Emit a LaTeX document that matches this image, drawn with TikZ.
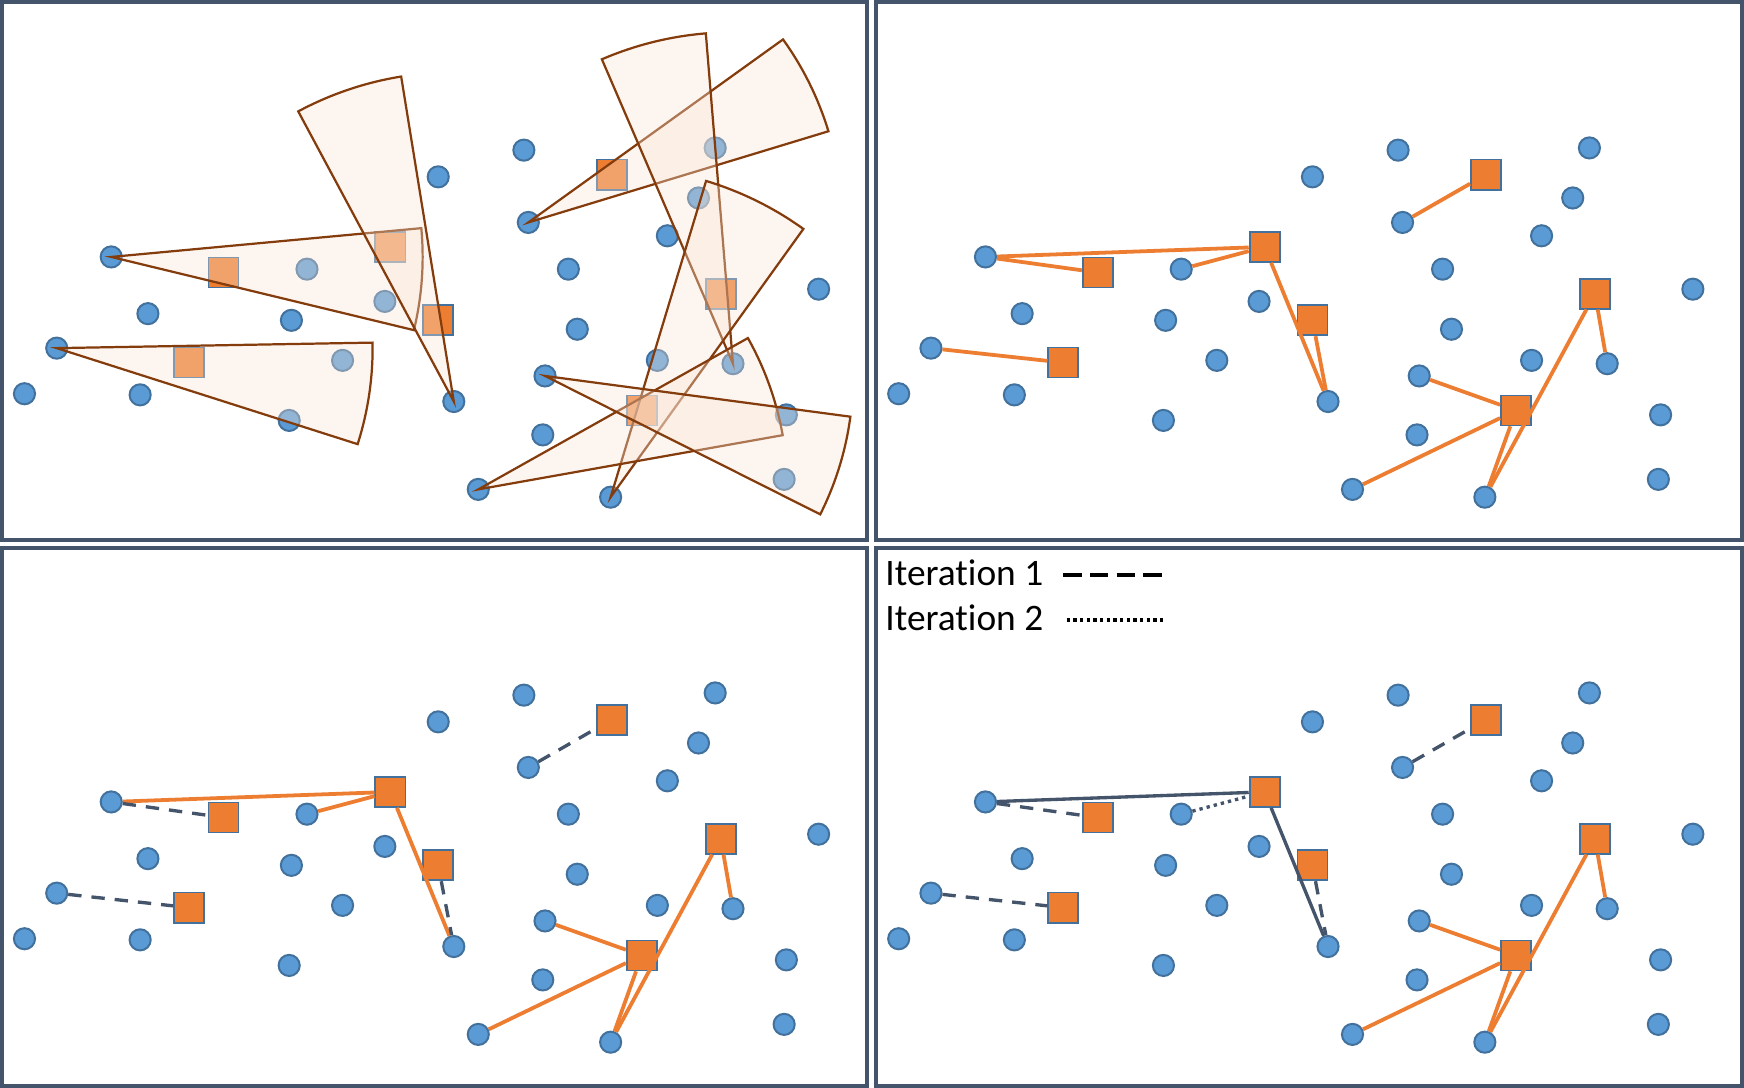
\documentclass[tikz,border=0pt]{standalone}
\usepackage{fontspec}
\setmainfont{Carlito}[Ligatures=NoCommon]
\definecolor{frameC}{HTML}{44546A}
\definecolor{ptFill}{HTML}{5B9BD5}
\definecolor{ptLine}{HTML}{41719C}
\definecolor{sqFill}{HTML}{ED7D31}
\definecolor{secFill}{HTML}{FBE5D6}
\definecolor{secLine}{HTML}{843C0C}
\tikzset{
  pt/.style={circle, fill=ptFill, draw=ptLine, line width=0.9pt, minimum size=9.5pt, inner sep=0pt},
  sq/.style={rectangle, fill=sqFill, draw=ptLine, line width=0.8pt, minimum size=13.5pt, inner sep=0pt},
  frame/.style={draw=frameC, line width=1.8pt},
  oline/.style={draw=sqFill, line width=1.7pt},
  dline/.style={draw=frameC, line width=1.5pt},
  dashline/.style={dline, dash pattern=on 6pt off 4.5pt},
  dotline/.style={dline, dash pattern=on 1.5pt off 1.8pt},
  sector/.style={fill=secFill, fill opacity=0.35, draw=secLine, line width=1.0pt, line join=miter},
  legtext/.style={anchor=base west, inner sep=0pt, font=\fontsize{16.8pt}{20pt}\selectfont},
}
\newcommand{\makepoints}[1]{%
  \foreach \nm/\px/\py in {c1/100/231, c2/133/282, c3/51/313, c4/22/354, c5/126/355,
      c6/276/242, c7/262/288, c8/260/378, c9/308/324, c10/346/271, c11/394/159,
      c12/408/361, c13/471/135, c14/475/200, c15/511/242, c16/519/296, c17/490/338,
      c18/488/391, c19/430/440, c20/549/447, c21/591/324, c22/600/212, c23/628/178,
      c24/643/133, c25/659/327, c26/707/373, c27/705/431, c28/736/260}
    {\node[pt] (#1\nm) at (\px,\py) {};}
  \foreach \nm/\px/\py in {s1/201/245, s2/351/222, s3/394/288, s4/170/326,
      s5/550/157, s6/648/264, s7/577/369}
    {\node[sq] (#1\nm) at (\px,\py) {};}
}
\newcommand{\sectorat}[4]{\path[sector] (#1.center) -- ++(#2:#4) arc[start angle=#2, end angle=#3, radius=#4] -- cycle;}
\begin{document}
\begin{tikzpicture}[x=0.5pt, y=-0.5pt]
\useasboundingbox (0,0) rectangle (1568,978);
\fill[white] (0,0) rectangle (1568,978);

% ---------- top-left panel ----------
\makepoints{A}
\sectorat{Ac1}{-5.3}{13.6}{280}
\sectorat{Ac3}{-1.0}{17.7}{284}
\sectorat{Ac12}{-118.2}{-99.2}{296}
\sectorat{Ac14}{-35.7}{-16.9}{282}
\sectorat{Ac25}{-113.3}{-94.7}{298}
\sectorat{Ac20}{-73.2}{-54.3}{297}
\sectorat{Ac19}{-29.3}{-10.1}{278}
\sectorat{Ac17}{7.6}{26.7}{277}

% ---------- top-right panel ----------
\begin{scope}[shift={(786,0)}]
\makepoints{B}
\end{scope}
\foreach \a/\b in {c1/s2, c1/s1, c6/s2, s2/c12, s3/c12, c3/s4, c14/s5,
                   c17/s7, c19/s7, s7/c20, s6/c20, s6/c25}
  {\draw[oline] (B\a) -- (B\b);}

% ---------- bottom-left panel ----------
\begin{scope}[shift={(0,490)}]
\makepoints{C}
\end{scope}
\foreach \a/\b in {c1/s2, c6/s2, s2/c12, c17/s7, c19/s7, s7/c20, s6/c20, s6/c25}
  {\draw[oline] (C\a) -- (C\b);}
\foreach \a/\b in {c1/s1, s3/c12, c3/s4, c14/s5}
  {\draw[dashline] (C\a) -- (C\b);}

% ---------- bottom-right panel ----------
\begin{scope}[shift={(786,490)}]
\makepoints{D}
\end{scope}
\foreach \a/\b in {c17/s7, c19/s7, s7/c20, s6/c20, s6/c25}
  {\draw[oline] (D\a) -- (D\b);}
\foreach \a/\b in {c1/s1, s3/c12, c3/s4, c14/s5}
  {\draw[dashline] (D\a) -- (D\b);}
\draw[dline] (Dc1) -- (Ds2);
\draw[dline] (Ds2) -- (Dc12);
\draw[dotline] (Dc6) -- (Ds2);

% legend
\node[legtext] (leg1) at (795.7,526) {Iteration 1};
\node[legtext] (leg2) at (795.7,566.5) {Iteration 2};
\coordinate (l1a) at (956,517);
\coordinate (l1b) at (1046,517);
\coordinate (l2a) at (959,557.5);
\coordinate (l2b) at (1048,557.5);
\draw[black, line width=2.1pt, dash pattern=on 8.25pt off 3.75pt] (l1a) -- (l1b);
\draw[black, line width=1.5pt, dash pattern=on 1.5pt off 1.5pt] (l2a) -- (l2b);

% frames
\draw[frame] (1.8,1.8) rectangle (779.8,485.1);
\draw[frame] (787.9,1.8) rectangle (1566.3,485.1);
\draw[frame] (1.8,492.4) rectangle (779.8,976.4);
\draw[frame] (787.9,492.4) rectangle (1566.3,976.4);
\end{tikzpicture}
\end{document}
